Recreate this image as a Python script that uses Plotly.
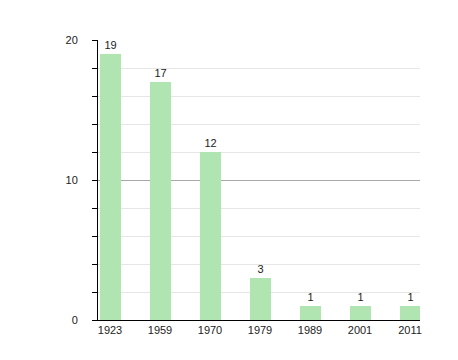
import plotly.graph_objects as go

years = ["1923", "1959", "1970", "1979", "1989", "2001", "2011"]
counts = [19, 17, 12, 3, 1, 1, 1]

xpos = list(range(len(years)))

fig = go.Figure(go.Bar(
    x=xpos, y=counts, width=0.42,
    marker=dict(color="#b0e4b0", line=dict(width=0)),
    text=[str(c) for c in counts], textposition="outside",
    textfont=dict(family="Liberation Sans, Arial, sans-serif", size=11, color="#222"),
    cliponaxis=False,
))

fig.update_layout(
    width=458, height=360,
    margin=dict(l=90, r=46, t=32, b=48, autoexpand=False),
    plot_bgcolor="white", paper_bgcolor="white",
    showlegend=False,
    font=dict(family="Liberation Sans, Arial, sans-serif", size=11, color="#222"),
    bargap=0,
)
fig.update_xaxes(
    range=[-0.24, 6.2], tickvals=xpos, ticktext=years,
    showgrid=False, showline=True, linecolor="black", linewidth=1,
    ticks="", ticklen=0, zeroline=False, fixedrange=True, automargin=False,
)
fig.update_yaxes(
    range=[0, 20], tickvals=[0, 10, 20], showgrid=True, gridcolor="#a8a8a8",
    showline=True, linecolor="black", linewidth=1,
    ticks="outside", ticklen=5, tickcolor="black", ticklabelstandoff=12,
    zeroline=False, automargin=False,
    minor=dict(dtick=2, showgrid=True, gridcolor="#e6e6e6", ticks="outside", ticklen=5, tickcolor="black"),
)

fig.write_html("out.html")
